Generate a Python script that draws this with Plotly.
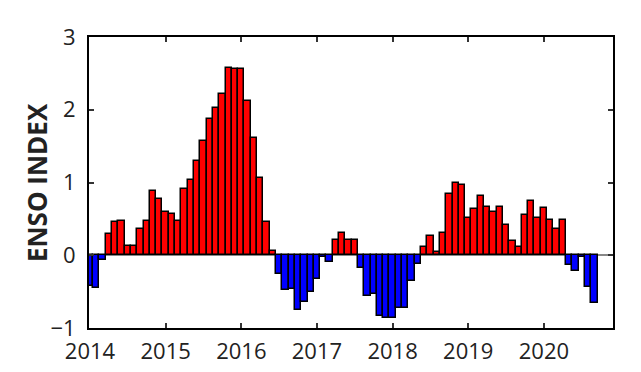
import plotly.graph_objects as go

start_year = 2014
enso = [
    -0.42, -0.45, -0.07, 0.29, 0.46, 0.47, 0.13, 0.13, 0.36, 0.47, 0.89, 0.77,
    0.59, 0.57, 0.47, 0.91, 1.04, 1.29, 1.57, 1.87, 2.02, 2.21, 2.58, 2.56,
    2.56, 2.12, 1.61, 1.06, 0.46, 0.06, -0.26, -0.48, -0.47, -0.75, -0.64, -0.51,
    -0.33, -0.02, -0.09, 0.21, 0.31, 0.21, 0.21, -0.18, -0.56, -0.53, -0.84, -0.86,
    -0.86, -0.73, -0.73, -0.36, -0.12, 0.12, 0.26, 0.04, 0.31, 0.84, 1.00, 0.97,
    0.51, 0.63, 0.82, 0.66, 0.60, 0.66, 0.42, 0.19, 0.12, 0.55, 0.74, 0.51,
    0.65, 0.48, 0.36, 0.49, -0.13, -0.21, -0.03, -0.43, -0.66,
]
x_vals = [start_year + k / 12 for k in range(len(enso))]
colors = ["#FF0000" if v >= 0 else "#0000FF" for v in enso]
year_ticks = [2014, 2015, 2016, 2017, 2018, 2019, 2020]
y_ticks = [-1, 0, 1, 2, 3]

fig = go.Figure(
    go.Bar(
        x=x_vals,
        y=enso,
        width=1 / 12,
        marker=dict(color=colors, line=dict(color="black", width=1.5)),
    )
)

font_family = "Open Sans"
fig.update_layout(
    width=633,
    height=364,
    margin=dict(l=81, r=28, t=29, b=44),
    paper_bgcolor="white",
    plot_bgcolor="white",
    showlegend=False,
    bargap=0,
    font=dict(family=font_family, size=22, color="#222222"),
    annotations=[
        dict(
            text="<b>ENSO INDEX</b>",
            xref="paper", yref="paper",
            x=-0.1, y=0.5,
            xanchor="center", yanchor="middle",
            textangle=-90,
            showarrow=False,
            font=dict(family=font_family, size=26, color="#222222"),
        )
    ],
)
fig.update_xaxes(
    range=[2013.987, 2020.913],
    tickvals=year_ticks,
    ticktext=[str(y) for y in year_ticks],
    ticks="inside",
    ticklen=5,
    tickwidth=1.5,
    tickcolor="#333",
    showline=True,
    linecolor="black",
    linewidth=2,
    mirror="ticks",
    showgrid=False,
    zeroline=False,
    ticklabelstandoff=3,
    automargin=False,
)
fig.update_yaxes(
    range=[-1, 3],
    tickvals=y_ticks,
    ticks="inside",
    ticklen=5,
    tickwidth=1.5,
    tickcolor="#333",
    showline=True,
    linecolor="black",
    linewidth=2,
    mirror="ticks",
    showgrid=False,
    zeroline=True,
    zerolinecolor="#888888",
    zerolinewidth=1.5,
    ticklabelstandoff=7,
    automargin=False,
)

fig.write_html("out.html")
